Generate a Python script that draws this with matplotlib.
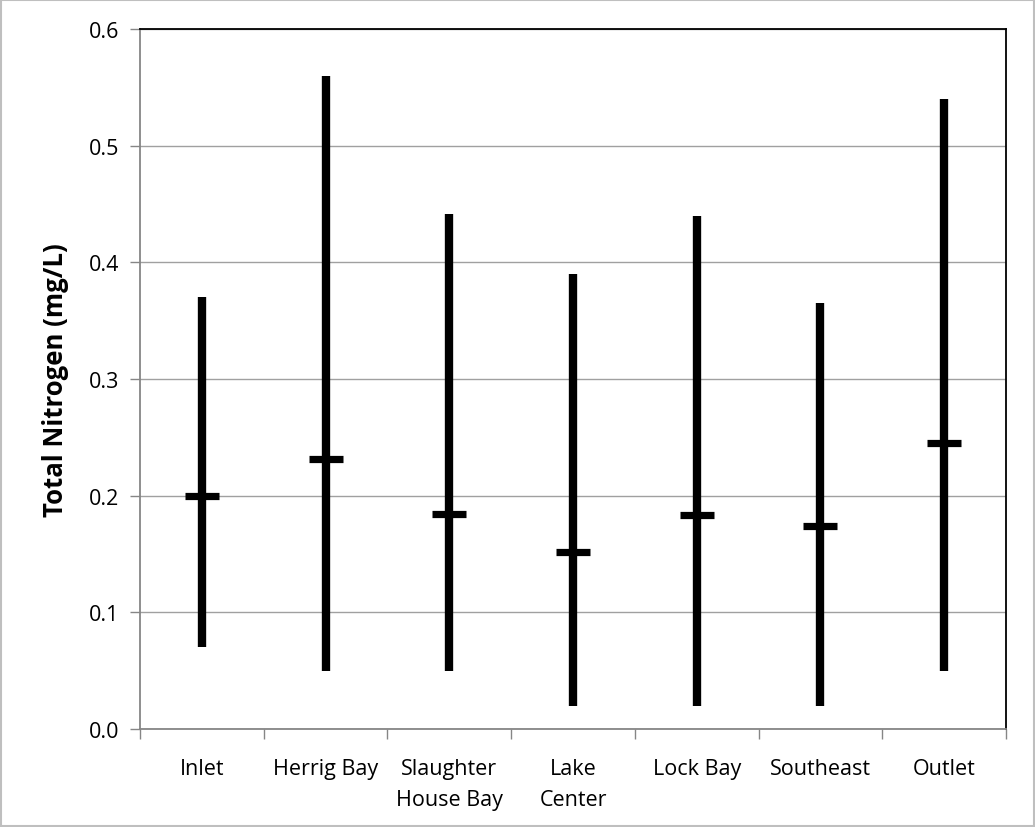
# Total nitrogen range and mean per sampling site

import matplotlib
matplotlib.use('Agg')
import matplotlib.pyplot as plt
from matplotlib.patches import Rectangle

# data
sites = ['Inlet', 'Herrig Bay', 'Slaughter\nHouse Bay', 'Lake\nCenter',
         'Lock Bay', 'Southeast', 'Outlet']
tn_max = [0.370, 0.560, 0.441, 0.390, 0.440, 0.365, 0.540]
tn_min = [0.070, 0.050, 0.050, 0.020, 0.020, 0.020, 0.050]
tn_mean = [0.200, 0.231, 0.184, 0.152, 0.183, 0.174, 0.245]

plt.rcParams['font.family'] = ['Open Sans', 'DejaVu Sans']

fig = plt.figure(figsize=(10.35, 8.28), dpi=100)
ax = fig.add_axes([0.1353, 0.1184, 0.972 - 0.1353, 0.9638 - 0.1184])

# light grey frame around the whole chart
fig.patches.append(Rectangle((0.001, 0.001), 0.998, 0.998, transform=fig.transFigure,
                             fill=False, edgecolor='#bfbfbf', linewidth=1.5))

x = list(range(len(sites)))
ax.vlines(x, tn_min, tn_max, color='black', linewidth=6, zorder=3)
ax.plot(x, tn_mean, linestyle='none', marker='_', markersize=24,
        markeredgewidth=5.2, color='black', zorder=4)

ax.set_xlim(-0.5, len(sites) - 0.5)
ax.set_ylim(0, 0.6)
ax.set_yticks([0.0, 0.1, 0.2, 0.3, 0.4, 0.5, 0.6])
ax.set_yticklabels(['0.0', '0.1', '0.2', '0.3', '0.4', '0.5', '0.6'])
ax.yaxis.grid(True, color='#a0a0a0', linewidth=1.0)
ax.set_axisbelow(True)

# category labels in the middle, tick marks between categories
ax.set_xticks([i - 0.5 for i in range(len(sites) + 1)])
ax.set_xticklabels([])
ax.set_xticks(x, minor=True)
ax.set_xticklabels(sites, minor=True, fontsize=15.5, linespacing=1.6)
ax.tick_params(axis='x', which='major', length=7, color='#868686', width=1)
ax.tick_params(axis='x', which='minor', length=0, pad=21)
ax.tick_params(axis='y', length=7, color='#868686', width=1, labelsize=15.5, pad=8)

ax.spines['left'].set_color('#868686')
ax.spines['bottom'].set_color('#868686')
ax.spines['left'].set_linewidth(1.3)
ax.spines['bottom'].set_linewidth(1.3)
ax.spines['top'].set_color('black')
ax.spines['right'].set_color('black')
ax.spines['top'].set_linewidth(1.3)
ax.spines['right'].set_linewidth(1.3)

ax.set_ylabel('Total Nitrogen (mg/L)', fontsize=18.5, fontweight='bold', labelpad=14)

fig.savefig('out.png', dpi=100)
